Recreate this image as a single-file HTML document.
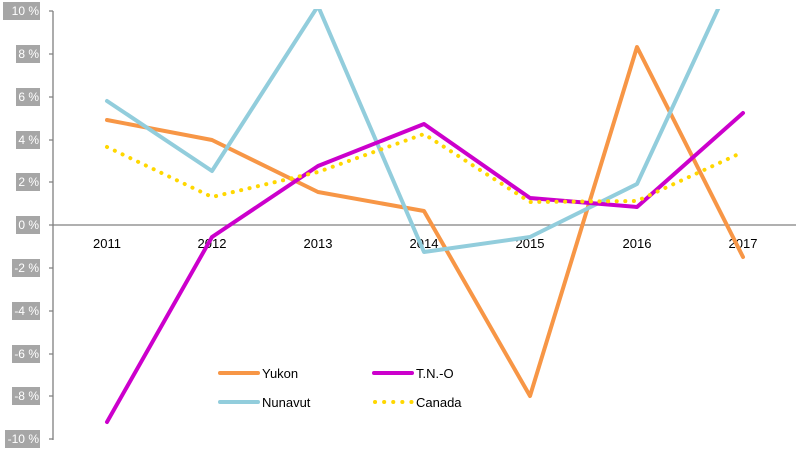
<!DOCTYPE html>
<html><head><meta charset="utf-8"><style>
body{margin:0;background:#fff;}
svg text{font-family:"Liberation Sans",sans-serif;}
</style></head><body>
<svg width="800" height="451" viewBox="0 0 800 451" xmlns="http://www.w3.org/2000/svg">
<defs><clipPath id="c"><rect x="53" y="9" width="747" height="442"/></clipPath></defs>
<g fill="#a6a6a6">
<rect x="3" y="2" width="37" height="18"/>
<rect x="16" y="45" width="24" height="18"/>
<rect x="16" y="88" width="24" height="18"/>
<rect x="16" y="131" width="24" height="18"/>
<rect x="16" y="173" width="24" height="18"/>
<rect x="16" y="216" width="24" height="18"/>
<rect x="12" y="259" width="28" height="18"/>
<rect x="12" y="302" width="28" height="18"/>
<rect x="12" y="345" width="28" height="18"/>
<rect x="12" y="387" width="28" height="18"/>
<rect x="5" y="430" width="35" height="18"/>
</g>
<g fill="#fff" font-size="12" text-anchor="end">
<text x="39" y="15">10 %</text><text x="39" y="58">8 %</text><text x="39" y="101">6 %</text>
<text x="39" y="144">4 %</text><text x="39" y="186">2 %</text><text x="39" y="229">0 %</text>
<text x="39" y="272">-2 %</text><text x="39" y="315">-4 %</text><text x="39" y="358">-6 %</text>
<text x="39" y="400">-8 %</text><text x="39" y="443">-10 %</text>
</g>
<g stroke="#808080" stroke-width="1.3" fill="none">
<line x1="53" y1="11" x2="53" y2="440"/>
<line x1="53" y1="225" x2="796" y2="225"/>
<path d="M49 11H53M49 54H53M49 97H53M49 140H53M49 182H53M49 225H53M49 268H53M49 311H53M49 354H53M49 396H53M49 439H53"/>
</g>
<g font-size="13" fill="#000" text-anchor="middle">
<text x="107" y="248">2011</text><text x="212" y="248">2012</text><text x="318" y="248">2013</text>
<text x="424" y="248">2014</text><text x="530" y="248">2015</text><text x="637" y="248">2016</text><text x="743" y="248">2017</text>
</g>
<g clip-path="url(#c)" fill="none" stroke-width="4" stroke-linecap="round" stroke-linejoin="round">
<polyline stroke="#f79646" points="107,120 212,140 318,192 424,211 530,396 637,47 743,257"/>
<polyline stroke="#92cddc" points="107,101 212,171 318,6 424,252 530,237 637,184 743,-45"/>
<polyline stroke="#cc00cc" points="107,422 212,237 318,166 424,124 530,198 637,207 743,113"/>
<polyline stroke="#ffd700" stroke-dasharray="0.1 8.5" points="107,147 212,197 318,172 424,134 530,202 637,201 743,152"/>
</g>
<g stroke-width="4" stroke-linecap="round">
<line x1="220" y1="373" x2="258" y2="373" stroke="#f79646"/>
<line x1="374" y1="373" x2="412" y2="373" stroke="#cc00cc"/>
<line x1="220" y1="402" x2="258" y2="402" stroke="#92cddc"/>
<line x1="375" y1="402" x2="412" y2="402" stroke="#ffd700" stroke-dasharray="0.1 9"/>
</g>
<g font-size="13" fill="#000">
<text x="262" y="378">Yukon</text><text x="416" y="378">T.N.-O</text>
<text x="262" y="407">Nunavut</text><text x="416" y="407">Canada</text>
</g>
</svg>
</body></html>
